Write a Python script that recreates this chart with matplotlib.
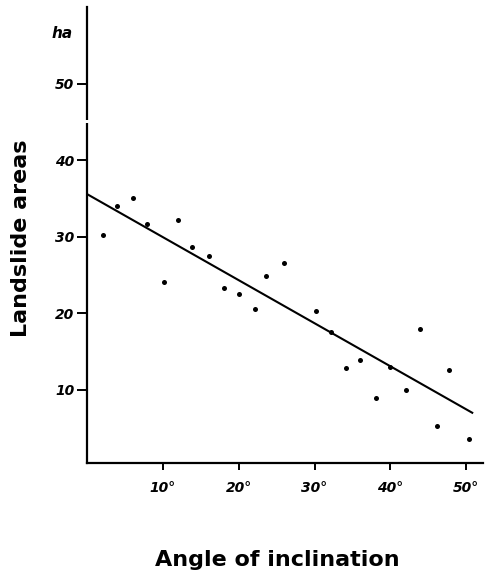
import matplotlib
matplotlib.use("Agg")
import matplotlib.pyplot as plt

# Data
angle = [2.1, 4.0, 6.0, 7.9, 10.1, 12.0, 13.9, 16.1, 18.1, 20.1, 22.1, 23.6, 26.0,
         30.2, 32.1, 34.2, 36.0, 38.1, 39.9, 42.0, 43.9, 46.2, 47.7, 50.3]
area = [30.2, 34.0, 35.0, 31.6, 24.0, 32.1, 28.6, 27.4, 23.3, 22.5, 20.5, 24.9, 26.6,
        20.3, 17.5, 12.8, 13.8, 8.9, 13.0, 10.0, 17.9, 5.2, 12.6, 3.6]
line_x = [0.0, 50.9]
line_y = [35.55, 6.9]
xticks = [10, 20, 30, 40, 50]
xticklabels = ["10°", "20°", "30°", "40°", "50°"]
yticks = [10, 20, 30, 40, 50]
yticklabels = ["10", "20", "30", "40", "50"]

plt.rcParams['font.family'] = ['DejaVu Sans']

W, H = 486, 581
fig = plt.figure(figsize=(W / 100, H / 100), dpi=100)
ax = fig.add_axes([87 / W, (H - 463) / H, 396 / W, (463 - 7) / H])

ax.scatter(angle, area, s=13, color="black", zorder=3, linewidths=0)
ax.plot(line_x, line_y, color="black", lw=1.5, solid_capstyle="butt")

ax.set_xlim(0, 52.2)
ax.set_ylim(0.4, 60)

for s in ["top", "right"]:
    ax.spines[s].set_visible(False)
for s in ["left", "bottom"]:
    ax.spines[s].set_linewidth(1.6)

# break in the y axis
ax.plot([0, 0], [44.8, 45.25], color="white", lw=4, clip_on=False, zorder=10,
        solid_capstyle="butt")

ax.set_xticks(xticks)
ax.set_xticklabels(xticklabels, fontsize=10, fontweight="bold", fontstyle="italic")
ax.set_yticks(yticks)
ax.set_yticklabels(yticklabels, fontsize=10, fontweight="bold", fontstyle="italic")
ax.tick_params(axis="y", direction="out", length=7, width=1.4, pad=2)
ax.tick_params(axis="x", direction="out", length=5, width=1.4, pad=8)

fig.text(62 / W, 1 - 33 / H, "ha", fontsize=11, fontweight="bold", fontstyle="italic",
         ha="center", va="center")
fig.text(277 / W, 1 - 560 / H, "Angle of inclination", fontsize=16, fontweight="bold",
         ha="center", va="center")
fig.text(21 / W, 1 - 238 / H, "Landslide areas", fontsize=16, fontweight="bold",
         ha="center", va="center", rotation=90)

fig.savefig("out.png", dpi=100)
